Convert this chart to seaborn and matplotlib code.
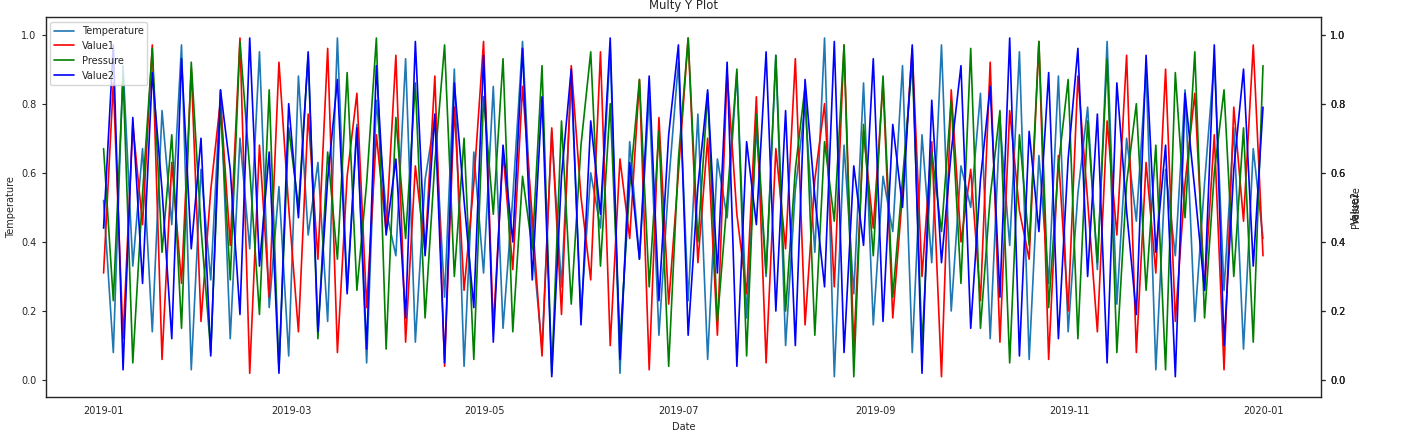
import matplotlib
matplotlib.use("Agg")
import matplotlib.pyplot as plt
import seaborn as sns
import pandas as pd

sns.set_style("white")
plt.rcParams['font.family'] = ['DejaVu Sans']
plt.rcParams['font.size'] = 7

temperature = [52,8,91,33,67,14,78,45,97,3,61,29,84,12,70,38,95,21,56,7,88,42,63,17,99,26,74,5,81,49,36,93,11,58,76,24,90,4,66,31,85,15,53,98,40,9,72,27,87,19,60,44,96,2,69,35,82,13,57,92,23,77,6,64,47,89,18,73,30,94,10,55,80,37,99,1,68,25,86,16,59,43,91,8,71,34,97,20,62,50,83,12,75,39,95,6,65,28,88,14,54,79,32,98,22,70,46,90,3,61,36,84,17,57,93,26,73,9,67,41]
value1 = [31,86,12,74,45,97,6,63,28,90,17,55,81,39,99,2,68,24,92,50,14,77,35,96,8,59,83,21,71,43,94,11,62,37,88,4,79,26,57,98,15,66,32,85,47,7,73,19,91,53,29,95,10,64,41,87,3,76,22,60,99,34,70,13,89,48,25,82,5,67,38,93,16,58,80,27,97,9,72,44,86,18,54,96,30,69,1,84,40,61,23,92,11,78,49,35,98,6,65,20,88,52,14,75,42,94,8,63,31,90,17,57,83,26,71,3,79,46,97,36]
pressure = [67,23,88,5,54,96,37,71,15,92,44,8,79,29,98,61,19,84,3,73,50,94,12,66,35,89,26,57,99,9,76,41,86,18,63,97,30,70,6,82,48,93,14,59,38,91,2,75,22,68,95,33,80,11,56,87,27,72,4,64,99,40,83,17,52,90,7,77,31,94,20,61,85,13,69,46,97,1,74,36,88,24,58,92,10,66,43,81,28,96,15,53,78,5,71,39,98,21,62,87,12,75,34,93,8,57,80,26,68,3,89,47,95,18,60,84,30,73,11,91]
value2 = [44,97,3,76,28,89,55,12,93,38,70,7,84,61,19,99,33,66,2,80,47,95,14,58,87,25,73,9,91,42,64,18,98,36,77,5,86,52,21,94,11,68,40,96,29,82,1,59,90,16,75,48,99,6,63,35,88,23,71,97,13,56,84,31,92,4,69,45,95,20,78,10,87,53,27,98,8,62,39,93,17,74,50,97,2,81,34,66,91,15,58,85,24,99,7,72,43,89,12,64,96,30,77,5,86,49,19,94,37,68,1,83,55,26,97,10,61,90,33,79]

labels = ["Temperature", "Value1", "Pressure", "Value2"]
colors = ["#1f77b4", "red", "green", "blue"]
series = [temperature, value1, pressure, value2]
dates = pd.date_range("2019-01-01", "2020-01-01", periods=len(temperature))

fig = plt.figure(figsize=(14.25, 4.32), dpi=100)
ax = fig.add_axes([0.032, 0.08, 0.895, 0.88])
axes = [ax] + [ax.twinx() for _ in range(3)]
handles = []
for a, lab, col, vals in zip(axes, labels, colors, series):
    df = pd.DataFrame({"Date": dates, lab: [v / 100 for v in vals]})
    sns.lineplot(data=df, x="Date", y=lab, ax=a, color=col, linewidth=1.2, label=lab, legend=False)
    handles.append(a.get_lines()[0])
    a.set_ylim(-0.05, 1.05)
for a, lab in zip(axes[1:], labels[1:]):
    a.set_ylabel(lab)
ax.set_title("Multy Y Plot")
ax.set_xlabel("Date")
ax.set_ylabel("Temperature")
ax.xaxis.set_major_formatter(matplotlib.dates.DateFormatter("%Y-%m"))
ax.xaxis.set_major_locator(matplotlib.dates.MonthLocator(bymonth=[1,3,5,7,9,11]))
for a in axes:
    a.tick_params(length=3)
axes[-1].legend(handles, labels, loc="upper left", fontsize=7)
fig.savefig("out.png", dpi=100)
